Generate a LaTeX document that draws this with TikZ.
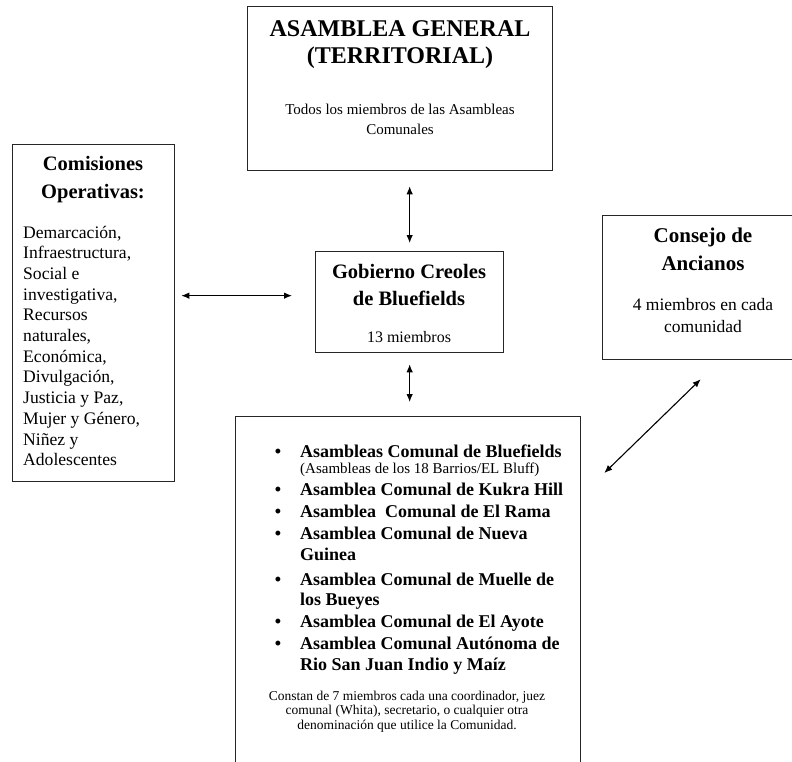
\documentclass[tikz,border=0pt]{standalone}
\usepackage{fontspec}
\setmainfont{Liberation Serif}
\usetikzlibrary{
        positioning,
        arrows.meta
    }
\newcommand{\asmitem}{\leavevmode\llap{\textbullet\hspace{19pt}}}

\begin{document}
\begin{tikzpicture}
[x=1pt, y=-1pt,
boxshape/.style={rectangle, draw=black!85, line width=1.3pt, anchor=north west, inner sep=0pt},
headtext/.style={anchor=base, align=flush center, inner sep=0pt},
bodytext/.style={anchor=base, align=flush center, inner sep=0pt},
arrow/.style={{Latex[length=8pt,width=6.5pt]}-{Latex[length=8pt,width=6.5pt]}, line width=1.1pt},]
    \useasboundingbox (0,0) rectangle (792,761);
    \clip (0,0) rectangle (792,761);

    \node (general) [boxshape, minimum width=305pt, minimum height=164pt] at (247,6) {};
    \node (gobierno) [boxshape, minimum width=188pt, minimum height=101pt] at (315,251) {};
    \node (comisiones) [boxshape, minimum width=162pt, minimum height=337pt] at (12,144) {};
    \node (consejo) [boxshape, minimum width=202pt, minimum height=144pt] at (602,215) {};
    \node (comunal) [boxshape, minimum width=345pt, minimum height=400pt] at (235,416) {};

    \node (generalT) [headtext, text width=300pt, font=\fontsize{24}{27}\selectfont\bfseries] at (400,36) {ASAMBLEA GENERAL\\(TERRITORIAL)};
    \node (generalN) [bodytext, text width=300pt, font=\fontsize{15}{20}\selectfont] at (400,114) {Todos los miembros de las Asambleas\\Comunales};
    \node (gobiernoT) [headtext, text width=185pt, font=\fontsize{20.5}{27}\selectfont\bfseries] at (409,278) {Gobierno Creoles\\de Bluefields};
    \node (gobiernoN) [bodytext, text width=185pt, font=\fontsize{16}{20}\selectfont] at (409,342) {13 miembros};
    \node (comisionesT) [headtext, text width=160pt, font=\fontsize{20.5}{28}\selectfont\bfseries] at (93,170) {Comisiones\\Operativas:};
    \node (comisionesN) [bodytext, anchor=base west, align=flush left, text width=150pt, font=\fontsize{17.6}{20.7}\selectfont] at (23,238) {Demarcación,\\Infraestructura,\\Social e\\investigativa,\\Recursos\\naturales,\\Económica,\\Divulgación,\\Justicia y Paz,\\Mujer y Género,\\Niñez y\\Adolescentes};
    \node (consejoT) [headtext, text width=200pt, font=\fontsize{21}{28}\selectfont\bfseries] at (703,242) {Consejo de\\Ancianos};
    \node (consejoN) [bodytext, text width=200pt, font=\fontsize{17.5}{22}\selectfont] at (703,310) {4 miembros en cada\\comunidad};
    \node (comunalL) [bodytext, anchor=base west, align=flush left, text width=290pt, font=\fontsize{18}{20.5}\selectfont\bfseries] at (300,457) {\setlength{\parskip}{1.5pt}%
        \asmitem Asambleas Comunal de Bluefields\par
        {\fontsize{15}{15}\selectfont\mdseries (Asambleas de los 18 Barrios/EL Bluff)\par}
        \asmitem Asamblea Comunal de Kukra Hill\par
        \asmitem Asamblea\ \ Comunal de El Rama\par
        \asmitem Asamblea Comunal de Nueva\\Guinea\par\vspace{3pt}
        \asmitem Asamblea Comunal de Muelle de\\los Bueyes\par
        \asmitem Asamblea Comunal de El Ayote\par
        \asmitem Asamblea Comunal Autónoma de\\Rio San Juan Indio y Maíz\par};
    \node (comunalN) [bodytext, text width=340pt, font=\fontsize{13.5}{14.5}\selectfont] at (407,700) {Constan de 7 miembros cada una coordinador, juez\\comunal (Whita), secretario, o cualquier otra\\denominación que utilice la Comunidad.};

    \draw[arrow, shorten <=8pt, shorten >=15pt] (gobierno.north) -- (gobierno.north |- general.south);
    \draw[arrow, shorten <=11pt, shorten >=14pt] (gobierno.south) -- (gobierno.south |- comunal.north);
    \draw[arrow, shorten <=6pt, shorten >=23pt] ([yshift=6.5pt]comisiones.east |- gobierno.west) -- ([yshift=6.5pt]gobierno.west);
    \draw[arrow] ([shift={(23pt,-57pt)}]comunal.north east) -- ([shift={(-3pt,-19pt)}]consejo.south);
\end{tikzpicture}
\end{document}
